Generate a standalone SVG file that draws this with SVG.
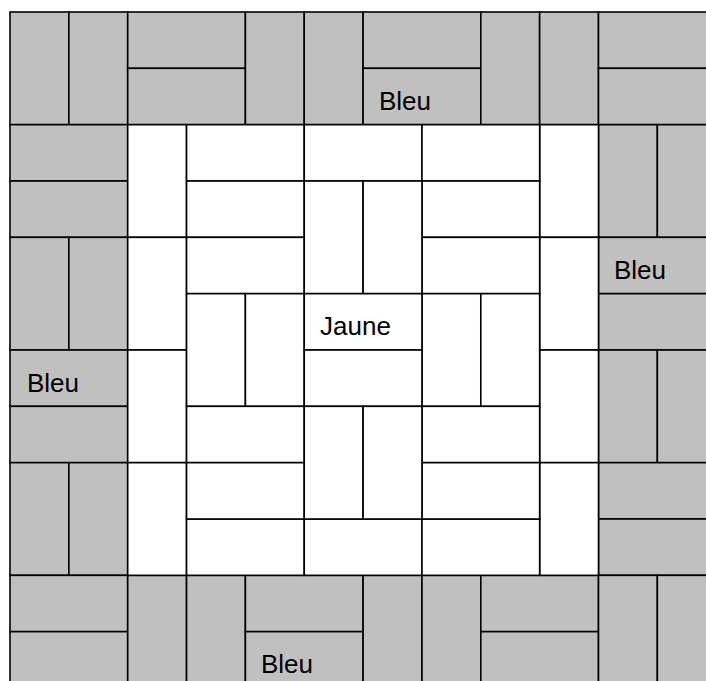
<svg xmlns="http://www.w3.org/2000/svg" width="706" height="681" viewBox="0 0 706 681">
<style>
.g,.w{stroke:#000;stroke-width:1.6}
.g{fill:#c0c0c0}
.w{fill:#fff}
text{font-family:"Liberation Sans",Arial,sans-serif;font-size:26px;fill:#000}
</style>
<rect x="0" y="0" width="706" height="681" fill="#fff"/>
<g id="outer">
<g id="t1"><rect class="g" x="10" y="12" width="58.85" height="112.67"/></g>
<g id="t2"><rect class="g" x="68.85" y="12" width="58.85" height="112.67"/></g>
<g id="t3"><rect class="g" x="127.7" y="12" width="117.7" height="56.33"/></g>
<g id="t4"><rect class="g" x="127.7" y="68.33" width="117.7" height="56.33"/></g>
<g id="t5"><rect class="g" x="245.4" y="12" width="58.85" height="112.67"/></g>
<g id="t6"><rect class="g" x="304.25" y="12" width="58.85" height="112.67"/></g>
<g id="t7"><rect class="g" x="363.1" y="12" width="117.7" height="56.33"/></g>
<g id="t8"><rect class="g" x="363.1" y="68.33" width="117.7" height="56.33"/><text x="379" y="110">Bleu</text></g>
<g id="t9"><rect class="g" x="480.8" y="12" width="58.85" height="112.67"/></g>
<g id="t10"><rect class="g" x="539.65" y="12" width="58.85" height="112.67"/></g>
<g id="t11"><rect class="g" x="598.5" y="12" width="117.7" height="56.33"/></g>
<g id="t12"><rect class="g" x="598.5" y="68.33" width="117.7" height="56.33"/></g>

<g id="l1"><rect class="g" x="10" y="124.67" width="117.7" height="56.33"/></g>
<g id="l2"><rect class="g" x="10" y="181" width="117.7" height="56.33"/></g>
<g id="l3"><rect class="g" x="10" y="237.33" width="58.85" height="112.67"/></g>
<g id="l4"><rect class="g" x="68.85" y="237.33" width="58.85" height="112.67"/></g>
<g id="l5"><rect class="g" x="10" y="350" width="117.7" height="56.33"/><text x="27" y="392">Bleu</text></g>
<g id="l6"><rect class="g" x="10" y="406.33" width="117.7" height="56.33"/></g>
<g id="l7"><rect class="g" x="10" y="462.67" width="58.85" height="112.67"/></g>
<g id="l8"><rect class="g" x="68.85" y="462.67" width="58.85" height="112.67"/></g>

<g id="r1"><rect class="g" x="598.5" y="124.67" width="58.85" height="112.67"/></g>
<g id="r2"><rect class="g" x="657.35" y="124.67" width="58.85" height="112.67"/></g>
<g id="r3"><rect class="g" x="598.5" y="237.33" width="117.7" height="56.33"/><text x="614" y="279">Bleu</text></g>
<g id="r4"><rect class="g" x="598.5" y="293.67" width="117.7" height="56.33"/></g>
<g id="r5"><rect class="g" x="598.5" y="350" width="58.85" height="112.67"/></g>
<g id="r6"><rect class="g" x="657.35" y="350" width="58.85" height="112.67"/></g>
<g id="r7"><rect class="g" x="598.5" y="462.67" width="117.7" height="56.33"/></g>
<g id="r8"><rect class="g" x="598.5" y="519" width="117.7" height="56.33"/></g>

<g id="b1"><rect class="g" x="10" y="575.33" width="117.7" height="56.33"/></g>
<g id="b2"><rect class="g" x="10" y="631.67" width="117.7" height="56.33"/></g>
<g id="b3"><rect class="g" x="127.7" y="575.33" width="58.85" height="112.67"/></g>
<g id="b4"><rect class="g" x="186.55" y="575.33" width="58.85" height="112.67"/></g>
<g id="b5"><rect class="g" x="245.4" y="575.33" width="117.7" height="56.33"/></g>
<g id="b6"><rect class="g" x="245.4" y="631.67" width="117.7" height="56.33"/><text x="261" y="673">Bleu</text></g>
<g id="b7"><rect class="g" x="363.1" y="575.33" width="58.85" height="112.67"/></g>
<g id="b8"><rect class="g" x="421.95" y="575.33" width="58.85" height="112.67"/></g>
<g id="b9"><rect class="g" x="480.8" y="575.33" width="117.7" height="56.33"/></g>
<g id="b10"><rect class="g" x="480.8" y="631.67" width="117.7" height="56.33"/></g>
<g id="b11"><rect class="g" x="598.5" y="575.33" width="58.85" height="112.67"/></g>
<g id="b12"><rect class="g" x="657.35" y="575.33" width="58.85" height="112.67"/></g>
</g>

<g id="inner">
<g id="i1"><rect class="w" x="127.7" y="124.67" width="58.85" height="112.67"/></g>
<g id="i2"><rect class="w" x="127.7" y="237.33" width="58.85" height="112.67"/></g>
<g id="i3"><rect class="w" x="127.7" y="350" width="58.85" height="112.67"/></g>
<g id="i4"><rect class="w" x="127.7" y="462.67" width="58.85" height="112.67"/></g>
<g id="i5"><rect class="w" x="539.65" y="124.67" width="58.85" height="112.67"/></g>
<g id="i6"><rect class="w" x="539.65" y="237.33" width="58.85" height="112.67"/></g>
<g id="i7"><rect class="w" x="539.65" y="350" width="58.85" height="112.67"/></g>
<g id="i8"><rect class="w" x="539.65" y="462.67" width="58.85" height="112.67"/></g>

<g id="i9"><rect class="w" x="186.55" y="124.67" width="117.7" height="56.33"/></g>
<g id="i10"><rect class="w" x="304.25" y="124.67" width="117.7" height="56.33"/></g>
<g id="i11"><rect class="w" x="421.95" y="124.67" width="117.7" height="56.33"/></g>
<g id="i12"><rect class="w" x="186.55" y="519" width="117.7" height="56.33"/></g>
<g id="i13"><rect class="w" x="304.25" y="519" width="117.7" height="56.33"/></g>
<g id="i14"><rect class="w" x="421.95" y="519" width="117.7" height="56.33"/></g>

<g id="i15"><rect class="w" x="186.55" y="181" width="117.7" height="56.33"/></g>
<g id="i16"><rect class="w" x="421.95" y="181" width="117.7" height="56.33"/></g>
<g id="i17"><rect class="w" x="186.55" y="237.33" width="117.7" height="56.33"/></g>
<g id="i18"><rect class="w" x="421.95" y="237.33" width="117.7" height="56.33"/></g>
<g id="i19"><rect class="w" x="304.25" y="181" width="58.85" height="112.67"/></g>
<g id="i20"><rect class="w" x="363.1" y="181" width="58.85" height="112.67"/></g>

<g id="i21"><rect class="w" x="186.55" y="293.67" width="58.85" height="112.67"/></g>
<g id="i22"><rect class="w" x="245.4" y="293.67" width="58.85" height="112.67"/></g>
<g id="i23"><rect class="w" x="421.95" y="293.67" width="58.85" height="112.67"/></g>
<g id="i24"><rect class="w" x="480.8" y="293.67" width="58.85" height="112.67"/></g>
<g id="i25"><rect class="w" x="304.25" y="293.67" width="117.7" height="56.33"/><text x="320" y="335">Jaune</text></g>
<g id="i26"><rect class="w" x="304.25" y="350" width="117.7" height="56.33"/></g>

<g id="i27"><rect class="w" x="186.55" y="406.33" width="117.7" height="56.33"/></g>
<g id="i28"><rect class="w" x="421.95" y="406.33" width="117.7" height="56.33"/></g>
<g id="i29"><rect class="w" x="186.55" y="462.67" width="117.7" height="56.33"/></g>
<g id="i30"><rect class="w" x="421.95" y="462.67" width="117.7" height="56.33"/></g>
<g id="i31"><rect class="w" x="304.25" y="406.33" width="58.85" height="112.67"/></g>
<g id="i32"><rect class="w" x="363.1" y="406.33" width="58.85" height="112.67"/></g>
</g>
</svg>
